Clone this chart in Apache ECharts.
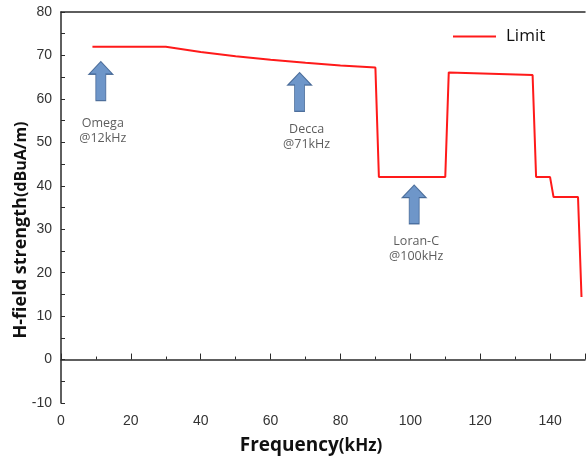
<!DOCTYPE html>
<html><head><meta charset="utf-8">
<script src="https://cdn.jsdelivr.net/npm/echarts@6/dist/echarts.min.js"></script>
<style>html,body{margin:0;padding:0;background:#fff}#c{width:588px;height:458px}</style>
</head><body><div id="c"></div>
<script>
// Limit curve (frequency kHz, H-field dBuA/m)
var limitFreq = [9, 30, 40, 50, 60, 70, 80, 90, 91, 110, 111, 135, 136, 140, 141, 148, 149];
var limitVal  = [72, 72, 70.8, 69.8, 69.0, 68.3, 67.7, 67.2, 42, 42, 66.1, 65.5, 42, 42, 37.4, 37.4, 14.4];
// Annotated navigation systems
var navNames = ['Omega', 'Decca', 'Loran-C'];
var navLabels = ['@12kHz', '@71kHz', '@100kHz'];
var navFreq = [11.4, 68.3, 101.1];
var navArrowY = [64.1, 61.6, 35.7];
var xTicks = [0, 20, 40, 60, 80, 100, 120, 140];
var yTicks = [-10, 0, 10, 20, 30, 40, 50, 60, 70, 80];

var chart = echarts.init(document.getElementById('c'), null, {renderer: 'canvas'});
var lineData = limitFreq.map(function (f, i) { return [f, limitVal[i]]; });
var labelTweaks = [{d: 15, ox: 2}, {d: 10, ox: 7}, {d: 9, ox: 2}];
var arrowData = navFreq.map(function (f, i) {
  return {
    value: [f, navArrowY[i]],
    label: {distance: labelTweaks[i].d, offset: [labelTweaks[i].ox, 0],
            formatter: navNames[i] + '\n' + navLabels[i]}
  };
});
var axisCol = '#2a2a2a';
chart.setOption({
  animation: false,
  grid: {left: 61, right: -2, top: 12, bottom: 55, containLabel: false},
  legend: {
    left: 453, top: 28, padding: 0, itemWidth: 43, itemHeight: 16,
    data: [{name: 'Limit', icon: 'path://M0,0 L43,0 L43,2 L0,2 Z'}],
    textStyle: {fontFamily: 'Open Sans', fontSize: 17, color: '#111', padding: [0, 0, 0, 5]}
  },
  xAxis: [{
    type: 'value', min: 0, max: 150, interval: 20,
    axisLine: {lineStyle: {color: axisCol, width: 1.5}},
    axisTick: {inside: true, length: 6, lineStyle: {color: axisCol, width: 1}},
    minorTick: {show: true, splitNumber: 2, length: 3, lineStyle: {color: axisCol, width: 1}},
    splitLine: {show: false},
    axisLabel: {
      margin: 11, fontFamily: 'Liberation Sans', fontSize: 14, color: '#333',
      formatter: function (v) { return xTicks.indexOf(v) >= 0 ? String(v) : ''; }
    }
  }, {
    type: 'value', min: 0, max: 150, position: 'top',
    axisLine: {show: true, onZero: false, lineStyle: {color: axisCol, width: 1.5}},
    axisTick: {show: false}, axisLabel: {show: false}, splitLine: {show: false}
  }],
  yAxis: {
    type: 'value', min: -10, max: 80, interval: 5,
    axisLine: {show: true, onZero: false, lineStyle: {color: axisCol, width: 1.5}},
    axisTick: {inside: true, length: 4, lineStyle: {color: axisCol, width: 1}},
    splitLine: {show: false},
    axisLabel: {
      margin: 9, fontFamily: 'Liberation Sans', fontSize: 14, color: '#333',
      formatter: function (v) { return yTicks.indexOf(v) >= 0 ? String(v) : ''; }
    }
  },
  graphic: [
    {type: 'text', x: 311, y: 446, style: {
      text: '{a|Frequency}{b|(kHz)}', align: 'center', verticalAlign: 'middle',
      rich: {a: {fontFamily: 'Open Sans', fontWeight: 'bold', fontSize: 19, fill: '#111'},
             b: {fontFamily: 'Open Sans', fontWeight: 'bold', fontSize: 17, fill: '#111'}}
    }},
    {type: 'text', x: 21, y: 230, rotation: Math.PI / 2, style: {
      text: '{a|H-field strength}{b|(dBuA/m)}', align: 'center', verticalAlign: 'middle',
      rich: {a: {fontFamily: 'Open Sans', fontWeight: 'bold', fontSize: 18, fill: '#111'},
             b: {fontFamily: 'Open Sans', fontWeight: 'bold', fontSize: 16, fill: '#111'}}
    }}
  ],
  series: [{
    name: 'Limit', type: 'line', data: lineData, symbol: 'none',
    lineStyle: {color: '#ff1a1a', width: 2}, itemStyle: {color: '#ff1a1a'}, z: 3
  }, {
    name: 'nav', type: 'scatter', data: arrowData,
    symbol: 'path://M7,40 L7,13 L0,13 L12,0 L24,13 L17,13 L17,40 Z',
    symbolSize: [24, 39], symbolKeepAspect: false,
    itemStyle: {color: '#4a7cbc', borderColor: '#34598a', borderWidth: 1},
    label: {show: true, position: 'bottom', fontFamily: 'Open Sans', fontSize: 12.5,
            lineHeight: 15, color: '#333', align: 'center'},
    z: 4
  }]
});
</script>
</body></html>
